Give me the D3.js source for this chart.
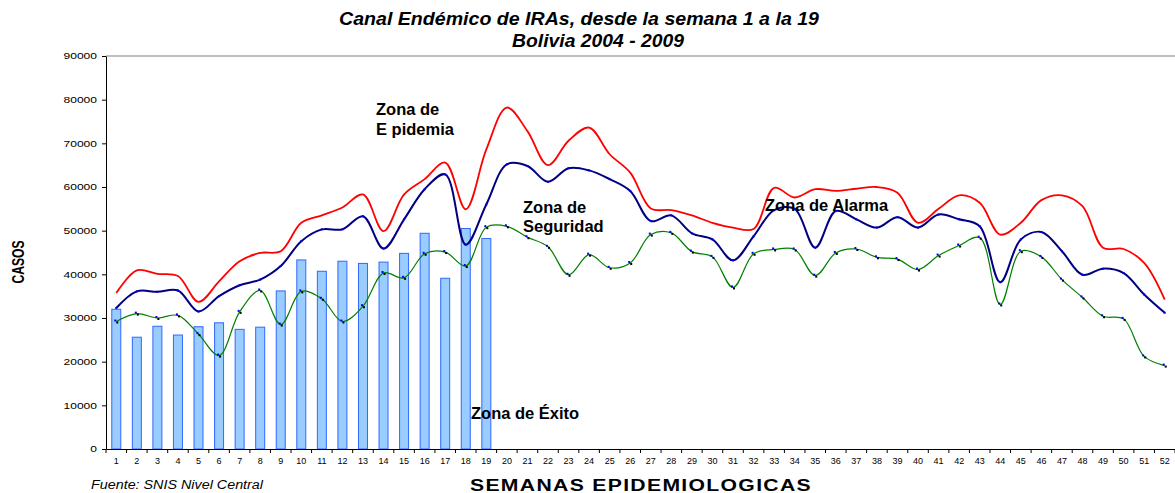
<!DOCTYPE html>
<html><head><meta charset="utf-8">
<script src="https://cdn.jsdelivr.net/npm/d3@7"></script>
<style>
html,body{margin:0;padding:0;background:#fff;}
svg{display:block;font-family:"Liberation Sans",Arial,sans-serif;}
</style></head>
<body><svg id="chart" width="1175" height="493"></svg>
<script>
const weeks = d3.range(1, 53);
const yTicks = [0,10000,20000,30000,40000,50000,60000,70000,80000,90000];
const cases = [32000,25600,28100,26100,28000,28900,27400,27900,36200,43300,40700,43000,42500,42800,44800,49400,39100,50500,48200];
const epidemic = [35700,40900,40100,39600,33700,38400,43000,44900,45300,51800,53500,55300,58300,49900,58300,61800,65600,54900,68600,78200,72800,65000,70600,73600,67500,63300,55100,54700,53500,51800,50700,50400,59800,57600,59500,59100,59600,60000,58700,51800,55000,58100,56400,49100,51800,57000,58100,55600,46100,45800,42600,34200];
const alarm = [32300,36100,36000,36300,31500,35000,37500,38800,41900,47600,50300,50300,53300,45900,52600,59500,62900,46800,56000,65200,64800,61200,64300,63800,61800,59100,52200,53500,49400,48000,43200,48700,54700,55000,46100,54500,52600,50700,53100,50700,53700,52600,51000,38200,48000,49700,45300,39900,41300,40300,35400,31200];
const safety = [29200,31000,30000,30600,26300,21400,31400,36300,28500,36100,34400,29200,32700,40300,39200,44700,45100,41900,50800,51000,48500,46300,39900,44500,41500,42600,49100,49500,45200,44000,37000,44700,45700,45700,39700,44900,45800,43900,43500,41100,44300,46600,48400,33100,45300,44000,38800,34700,30400,29800,21200,19100];

const svg = d3.select("#chart");
const L = 106, R = 1175, T = 56, B = 449;
const x = d3.scaleBand().domain(weeks).range([L, R]).padding(0);
const y = d3.scaleLinear().domain([0, 90000]).range([B, T]);
const cx = d => x(d) + x.bandwidth() / 2;

// top border
svg.append("line").attr("x1", L).attr("x2", R).attr("y1", T).attr("y2", T)
  .attr("stroke", "#808080").attr("stroke-width", 1);

// bars
const barW = 9;
svg.append("g").selectAll("rect").data(cases).join("rect")
  .attr("x", (d, i) => cx(weeks[i]) - barW / 2)
  .attr("y", d => y(d))
  .attr("width", barW)
  .attr("height", d => B - y(d))
  .attr("fill", "#99CCFF").attr("stroke", "#3366FF").attr("stroke-width", 1);

// lines
const line = d3.line().x((d, i) => cx(weeks[i])).y(d => y(d)).curve(d3.curveCatmullRom.alpha(0.5));
svg.append("path").datum(epidemic).attr("d", line).attr("fill", "none").attr("stroke", "#FF0000").attr("stroke-width", 1.8);
svg.append("path").datum(alarm).attr("d", line).attr("fill", "none").attr("stroke", "#000080").attr("stroke-width", 2);
svg.append("path").datum(safety).attr("d", line).attr("fill", "none").attr("stroke", "#008000").attr("stroke-width", 1.2);

// markers
svg.append("g").selectAll("rect").data(alarm).join("rect")
  .attr("x", (d, i) => cx(weeks[i]) - 1).attr("y", d => y(d) - 1)
  .attr("width", 2).attr("height", 2).attr("fill", "#0000FF");
const mg = svg.append("g");
mg.selectAll("rect.b").data(safety).join("rect").attr("class", "b")
  .attr("x", (d, i) => cx(weeks[i]) - 2).attr("y", d => y(d) - 2)
  .attr("width", 2).attr("height", 2).attr("fill", "#0000FF");
mg.selectAll("rect.k").data(safety).join("rect").attr("class", "k")
  .attr("x", (d, i) => cx(weeks[i])).attr("y", d => y(d))
  .attr("width", 2).attr("height", 2).attr("fill", "#000000");

// y axis
const yAxis = svg.append("g").attr("transform", `translate(${L},0)`)
  .call(d3.axisLeft(y).tickValues(yTicks).tickSize(4).tickSizeOuter(0).tickFormat(d3.format("d")));
yAxis.select(".domain").attr("stroke", "#000");
yAxis.selectAll("text").attr("font-size", 8.5).attr("fill", "#000").attr("x", -9)
  .attr("font-family", "Liberation Sans, Arial, sans-serif")
  .attr("textLength", d => String(d).length * 6.7).attr("lengthAdjust", "spacingAndGlyphs");

// x axis
const xAxis = svg.append("g").attr("transform", `translate(0,${B})`)
  .call(d3.axisBottom(x).tickSize(0).tickSizeOuter(0).tickPadding(9));
xAxis.select(".domain").attr("stroke", "#000");
xAxis.selectAll("text").attr("font-size", 9).attr("fill", "#000")
  .attr("font-family", "Liberation Sans, Arial, sans-serif");
// boundary ticks
svg.append("g").selectAll("line").data(weeks.concat([53])).join("line")
  .attr("x1", d => L + (d - 1) * x.bandwidth()).attr("x2", d => L + (d - 1) * x.bandwidth())
  .attr("y1", B).attr("y2", B + 4).attr("stroke", "#000");

// titles
const t = svg.append("g").attr("font-weight", "bold").attr("font-style", "italic").attr("font-size", 18.5);
t.append("text").attr("x", 339).attr("y", 25).attr("textLength", 480).attr("lengthAdjust", "spacingAndGlyphs")
  .text("Canal Endémico de IRAs, desde la semana 1 a la 19");
t.append("text").attr("x", 512).attr("y", 47).attr("textLength", 172).attr("lengthAdjust", "spacingAndGlyphs")
  .text("Bolivia 2004 - 2009");

svg.append("text").attr("transform", "translate(24,262) rotate(-90)").attr("text-anchor", "middle")
  .attr("font-weight", "bold").attr("font-size", 17).attr("textLength", 43).attr("lengthAdjust", "spacingAndGlyphs").text("CASOS");
svg.append("text").attr("x", 91).attr("y", 489).attr("font-style", "italic").attr("font-size", 12.5)
  .attr("textLength", 172).attr("lengthAdjust", "spacingAndGlyphs").text("Fuente: SNIS Nivel Central");
svg.append("text").attr("x", 470).attr("y", 491).attr("font-weight", "bold").attr("font-size", 16)
  .attr("letter-spacing", 1).attr("textLength", 342).attr("lengthAdjust", "spacingAndGlyphs").text("SEMANAS EPIDEMIOLOGICAS");

// zone labels
const z = svg.append("g").attr("font-weight", "bold").attr("font-size", 16.5).attr("fill", "#000");
z.append("text").attr("x", 376).attr("y", 115).text("Zona de");
z.append("text").attr("x", 376).attr("y", 135).text("E pidemia");
z.append("text").attr("x", 523).attr("y", 213).text("Zona de");
z.append("text").attr("x", 523).attr("y", 232).text("Seguridad");
z.append("text").attr("x", 765).attr("y", 211).text("Zona de Alarma");
z.append("text").attr("x", 471).attr("y", 419).text("Zona de Éxito");
</script></body></html>
